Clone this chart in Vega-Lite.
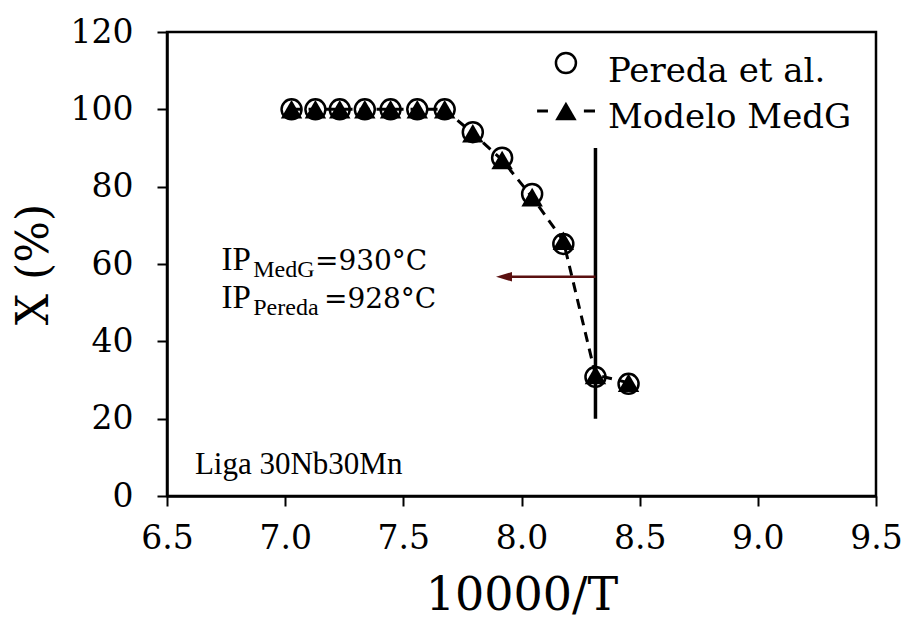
{
  "$schema": "https://vega.github.io/schema/vega-lite/v6.json",
  "width": 709,
  "height": 464,
  "autosize": {"type": "none"},
  "padding": {"left": 167, "top": 32, "right": 34, "bottom": 125},
  "background": "white",
  "config": {
    "view": {"stroke": "black", "strokeWidth": 2.5},
    "axis": {
      "grid": false,
      "domainColor": "black",
      "domainWidth": 2.5,
      "tickColor": "black",
      "tickWidth": 2,
      "tickSize": 10,
      "labelFont": "DejaVu Serif",
      "labelFontSize": 33,
      "labelColor": "black",
      "titleFont": "DejaVu Serif",
      "titleFontSize": 46,
      "titleFontWeight": "normal",
      "titleColor": "black"
    }
  },
  "datasets": {
    "main": [
      {"t": 7.027, "pereda": 100, "medg": 100},
      {"t": 7.128, "pereda": 100, "medg": 100},
      {"t": 7.231, "pereda": 100, "medg": 100},
      {"t": 7.337, "pereda": 100, "medg": 100},
      {"t": 7.446, "pereda": 100, "medg": 100},
      {"t": 7.559, "pereda": 100, "medg": 100},
      {"t": 7.675, "pereda": 100, "medg": 100},
      {"t": 7.794, "pereda": 94.1, "medg": 93.8},
      {"t": 7.918, "pereda": 87.5, "medg": 86.9},
      {"t": 8.045, "pereda": 78.1, "medg": 77.3},
      {"t": 8.177, "pereda": 65.2, "medg": 66.0},
      {"t": 8.313, "pereda": 30.8, "medg": 31.3},
      {"t": 8.453, "pereda": 29.0, "medg": 29.3}
    ]
  },
  "layer": [
    {
      "data": {"name": "main"},
      "mark": {"type": "point", "shape": "circle", "fill": "white", "stroke": "black", "strokeWidth": 2.5, "size": 400, "opacity": 1},
      "encoding": {
        "x": {"field": "t", "type": "quantitative", "title": "10000/T", "scale": {"domain": [6.5, 9.5], "nice": false, "zero": false},
              "axis": {"values": [6.5, 7.0, 7.5, 8.0, 8.5, 9.0, 9.5], "format": ".1f", "labelPadding": 16, "titlePadding": 18, "labelFlush": false}},
        "y": {"field": "pereda", "type": "quantitative", "title": "X (%)", "scale": {"domain": [0, 120], "nice": false},
              "axis": {"values": [0, 20, 40, 60, 80, 100, 120], "labelPadding": 24, "titlePadding": 14, "titleFontSize": 44}}
      }
    },
    {
      "data": {"name": "main"},
      "mark": {"type": "line", "color": "black", "strokeWidth": 3, "strokeDash": [10, 7]},
      "encoding": {
        "x": {"field": "t", "type": "quantitative", "title": "10000/T"},
        "y": {"field": "medg", "type": "quantitative", "title": "X (%)"}
      }
    },
    {
      "data": {"name": "main"},
      "mark": {"type": "point", "shape": "triangle-up", "filled": true, "color": "black", "size": 460, "opacity": 1},
      "encoding": {
        "x": {"field": "t", "type": "quantitative", "title": "10000/T"},
        "y": {"field": "medg", "type": "quantitative", "title": "X (%)"}
      }
    },
    {
      "data": {"values": [{"x": 8.313, "y1": 20, "y2": 90}]},
      "mark": {"type": "rule", "color": "black", "strokeWidth": 3.5},
      "encoding": {
        "x": {"field": "x", "type": "quantitative", "title": "10000/T"},
        "y": {"field": "y1", "type": "quantitative", "title": "X (%)"},
        "y2": {"field": "y2"}
      }
    },
    {
      "data": {"values": [{"x1": 7.92, "x2": 8.313, "y": 56.7}]},
      "mark": {"type": "rule", "color": "#5a1010", "strokeWidth": 2.5},
      "encoding": {
        "x": {"field": "x1", "type": "quantitative", "title": "10000/T"},
        "x2": {"field": "x2"},
        "y": {"field": "y", "type": "quantitative", "title": "X (%)"}
      }
    },
    {
      "data": {"values": [{"x": 7.926, "y": 56.7}]},
      "mark": {"type": "point", "shape": "M-1,0L1,-0.6L1,0.6Z", "filled": true, "color": "#5a1010", "size": 256, "opacity": 1},
      "encoding": {
        "x": {"field": "x", "type": "quantitative", "title": "10000/T"},
        "y": {"field": "y", "type": "quantitative", "title": "X (%)"}
      }
    },
    {
      "data": {"values": [{"x": 8.188, "y": 111.98}]},
      "mark": {"type": "point", "shape": "circle", "fill": "white", "stroke": "black", "strokeWidth": 2.5, "size": 400, "opacity": 1},
      "encoding": {
        "x": {"field": "x", "type": "quantitative", "title": "10000/T"},
        "y": {"field": "y", "type": "quantitative", "title": "X (%)"}
      }
    },
    {
      "data": {"values": [{"x1": 8.066, "x2": 8.112, "y": 99.57}, {"x1": 8.264, "x2": 8.311, "y": 99.57}]},
      "mark": {"type": "rule", "color": "black", "strokeWidth": 3},
      "encoding": {
        "x": {"field": "x1", "type": "quantitative", "title": "10000/T"},
        "x2": {"field": "x2"},
        "y": {"field": "y", "type": "quantitative", "title": "X (%)"}
      }
    },
    {
      "data": {"values": [{"x": 8.188, "y": 99.57}]},
      "mark": {"type": "point", "shape": "triangle-up", "filled": true, "color": "black", "size": 460, "opacity": 1},
      "encoding": {
        "x": {"field": "x", "type": "quantitative", "title": "10000/T"},
        "y": {"field": "y", "type": "quantitative", "title": "X (%)"}
      }
    },
    {
      "data": {"values": [{"x": 8.366, "y": 107.15, "label": "Pereda et al."}, {"x": 8.366, "y": 95.17, "label": "Modelo MedG"}]},
      "mark": {"type": "text", "font": "DejaVu Serif", "fontSize": 34, "align": "left", "baseline": "alphabetic", "color": "black"},
      "encoding": {
        "x": {"field": "x", "type": "quantitative", "title": "10000/T"},
        "y": {"field": "y", "type": "quantitative", "title": "X (%)"},
        "text": {"field": "label"}
      }
    },
    {
      "data": {"values": [{"x": 6.618, "y": 5.69, "label": "Liga 30Nb30Mn"}]},
      "mark": {"type": "text", "font": "Liberation Serif", "fontSize": 31, "align": "left", "baseline": "alphabetic", "color": "black"},
      "encoding": {
        "x": {"field": "x", "type": "quantitative", "title": "10000/T"},
        "y": {"field": "y", "type": "quantitative", "title": "X (%)"},
        "text": {"field": "label"}
      }
    },
    {
      "data": {"values": [{"x": 6.731, "y": 58.45, "label": "IP"}, {"x": 6.731, "y": 48.62, "label": "IP"}]},
      "mark": {"type": "text", "font": "Liberation Serif", "fontSize": 33, "align": "left", "baseline": "alphabetic", "color": "black"},
      "encoding": {
        "x": {"field": "x", "type": "quantitative", "title": "10000/T"},
        "y": {"field": "y", "type": "quantitative", "title": "X (%)"},
        "text": {"field": "label"}
      }
    },
    {
      "data": {"values": [{"x": 6.865, "y": 56.64, "label": "MedG"}, {"x": 6.865, "y": 46.81, "label": "Pereda"}]},
      "mark": {"type": "text", "font": "Liberation Serif", "fontSize": 24, "align": "left", "baseline": "alphabetic", "color": "black"},
      "encoding": {
        "x": {"field": "x", "type": "quantitative", "title": "10000/T"},
        "y": {"field": "y", "type": "quantitative", "title": "X (%)"},
        "text": {"field": "label"}
      }
    },
    {
      "data": {"values": [{"x": 7.126, "y": 58.45, "label": "=930°C"}, {"x": 7.164, "y": 48.62, "label": "=928°C"}]},
      "mark": {"type": "text", "font": "DejaVu Serif", "fontSize": 28, "align": "left", "baseline": "alphabetic", "color": "black"},
      "encoding": {
        "x": {"field": "x", "type": "quantitative", "title": "10000/T"},
        "y": {"field": "y", "type": "quantitative", "title": "X (%)"},
        "text": {"field": "label"}
      }
    }
  ]
}
